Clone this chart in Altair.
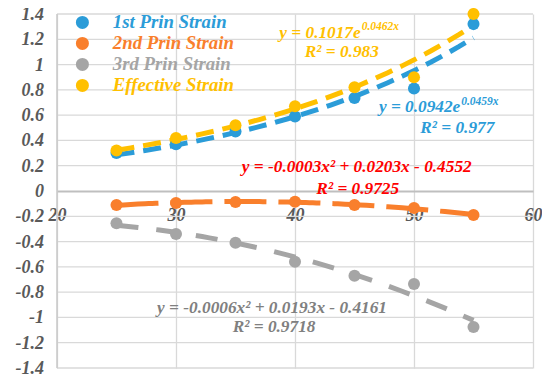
import altair as alt
import pandas as pd

# ---- data ----
x_vals = [25, 30, 35, 40, 45, 50, 55]
first_prin = [0.30, 0.37, 0.47, 0.59, 0.735, 0.81, 1.32]
second_prin = [-0.11, -0.095, -0.087, -0.085, -0.11, -0.135, -0.19]
third_prin = [-0.255, -0.34, -0.41, -0.56, -0.67, -0.735, -1.075]
effective = [0.32, 0.42, 0.52, 0.67, 0.82, 0.90, 1.40]

series_names = ["1st Prin Strain", "2nd Prin Strain", "3rd Prin Strain", "Effective Strain"]
series_colors = ["#2b9cd8", "#f97f2c", "#a5a5a5", "#ffc000"]
trend_methods = ["exp", "poly", "poly", "exp"]
trend_dashes = [[18, 9], [42, 12], [22, 18], [18, 9]]

x_ticks = [20, 30, 40, 50, 60]
y_ticks = [-1.4, -1.2, -1.0, -0.8, -0.6, -0.4, -0.2, 0, 0.2, 0.4, 0.6, 0.8, 1.0, 1.2, 1.4]
y_tick_labels = ["-1.4", "-1.2", "-1", "-0.8", "-0.6", "-0.4", "-0.2", "0",
                 "0.2", "0.4", "0.6", "0.8", "1", "1.2", "1.4"]

rows = []
for name, vals in zip(series_names, [first_prin, second_prin, third_prin, effective]):
    for xv, yv in zip(x_vals, vals):
        rows.append({"series": name, "x": xv, "y": yv})
df = pd.DataFrame(rows)

FONT = "Liberation Serif"
LABEL_GRAY = "#595959"
GRID = "#d9d9d9"

x_scale = alt.Scale(domain=[20, 60], nice=False, zero=False)
y_scale = alt.Scale(domain=[-1.4, 1.4], nice=False, zero=False)

x_axis = alt.Axis(
    values=x_ticks, offset=-177, grid=True, gridColor=GRID, gridWidth=1.3,
    domainColor="#bfbfbf", domainWidth=2, ticks=False, title=None,
    labelFont=FONT, labelFontSize=18, labelFontStyle="italic", labelFontWeight="bold",
    labelColor=LABEL_GRAY, labelPadding=15, labelFlush=False, labelOverlap=False,
    format="d",
)
x_enc = alt.X("x:Q", scale=x_scale, axis=x_axis)
y_enc = alt.Y("y:Q", scale=y_scale, axis=None)

tick_df = pd.DataFrame({"y": y_ticks, "label": y_tick_labels})

base = alt.Chart(df)
layers = []

# first layer: points' x encoding defines the x axis; drawn invisibly here so
# that every later layer shares the same explicit x scale
layers.append(base.mark_circle(size=0, opacity=0).encode(x=x_enc, y=y_enc))

# horizontal gridlines at the y ticks (the zero line is the x axis itself)
layers.append(
    alt.Chart(tick_df)
    .transform_filter(alt.datum.y != 0)
    .mark_rule(color=GRID, strokeWidth=1.3)
    .encode(y=y_enc)
)
# left axis line
layers.append(
    alt.Chart(pd.DataFrame({"a": [0]}))
    .mark_rule(color="#c8c8c8", strokeWidth=1.5)
    .encode(x=alt.X(datum=x_ticks[0], scale=x_scale, axis=x_axis))
)

# trendlines
for name, color, method, dash in zip(series_names, series_colors, trend_methods, trend_dashes):
    reg = (
        base.transform_filter(alt.datum.series == name)
        .transform_regression("x", "y", method=method, order=2)
        .mark_line(color=color, strokeWidth=5, strokeDash=dash)
        .encode(x=x_enc, y=y_enc)
    )
    layers.append(reg)

label_color_expr = " : ".join(
    [f"datum.value == '{n}' ? '{c}'" for n, c in zip(series_names[:-1], series_colors[:-1])]
) + f" : '{series_colors[-1]}'"

points = base.mark_circle(size=145, opacity=1).encode(
    x=x_enc,
    y=y_enc,
    color=alt.Color(
        "series:N",
        scale=alt.Scale(domain=series_names, range=series_colors),
        legend=alt.Legend(
            orient="none", legendX=16, legendY=-1, title=None,
            symbolType="circle", symbolSize=170, symbolOpacity=1, symbolStrokeWidth=0,
            labelFont=FONT, labelFontSize=18.8, labelFontStyle="italic", labelFontWeight="bold",
            labelColor=alt.ExprRef(expr=label_color_expr), labelOffset=21, rowPadding=1,
        ),
    ),
    order=alt.Order("series:N"),
)
layers.append(points)

# y tick labels, placed through the y scale
ylab = alt.Chart(tick_df).mark_text(
    align="right", baseline="middle", font=FONT, fontSize=18, fontStyle="italic",
    fontWeight="bold", color=LABEL_GRAY, dy=1,
).encode(
    x=alt.value(-13),
    y=y_enc,
    text="label:N",
)
layers.append(ylab)

# equation annotations (data coordinates)
EQ = 17.3
SUP = 11.5
annotations = [
    # text, x, y, color, align, size
    ("y = 0.1017e", 45.52, 1.25, "#ffc000", "right", EQ),
    ("0.0462x", 45.6, 1.30, "#ffc000", "left", SUP),
    ("R\u00b2 = 0.983", 43.93, 1.10, "#ffc000", "center", EQ),
    ("y = 0.0942e", 53.89, 0.664, "#2b9cd8", "right", EQ),
    ("0.0459x", 53.97, 0.704, "#2b9cd8", "left", SUP),
    ("R\u00b2 = 0.977", 53.64, 0.498, "#2b9cd8", "center", EQ),
    ("y = -0.0003x\u00b2 + 0.0203x - 0.4552", 45.19, 0.19, "#ff0000", "center", EQ),
    ("R\u00b2 = 0.9725", 45.27, 0.016, "#ff0000", "center", EQ),
    ("y = -0.0006x\u00b2 + 0.0193x - 0.4161", 38.07, -0.925, "#808080", "center", EQ),
    ("R\u00b2 = 0.9718", 38.24, -1.076, "#808080", "center", EQ),
]
for text, ax, ay, color, align, size in annotations:
    layers.append(
        alt.Chart(pd.DataFrame({"a": [0]}))
        .mark_text(
            text=text, color=color, align=align, baseline="middle", font=FONT,
            fontSize=size, fontStyle="italic", fontWeight="bold",
        )
        .encode(
            x=alt.X(datum=ax, scale=x_scale, axis=x_axis),
            y=alt.Y(datum=ay, scale=y_scale, axis=None),
        )
    )

chart = (
    alt.layer(*layers)
    .properties(
        width=476, height=354,
        autosize=alt.AutoSizeParams(type="none"),
        padding={"left": 49, "top": 6, "right": 9, "bottom": 11},
    )
    .configure_view(stroke=None)
)

chart.save("out.html", embed_options={"renderer": "svg", "actions": False})
